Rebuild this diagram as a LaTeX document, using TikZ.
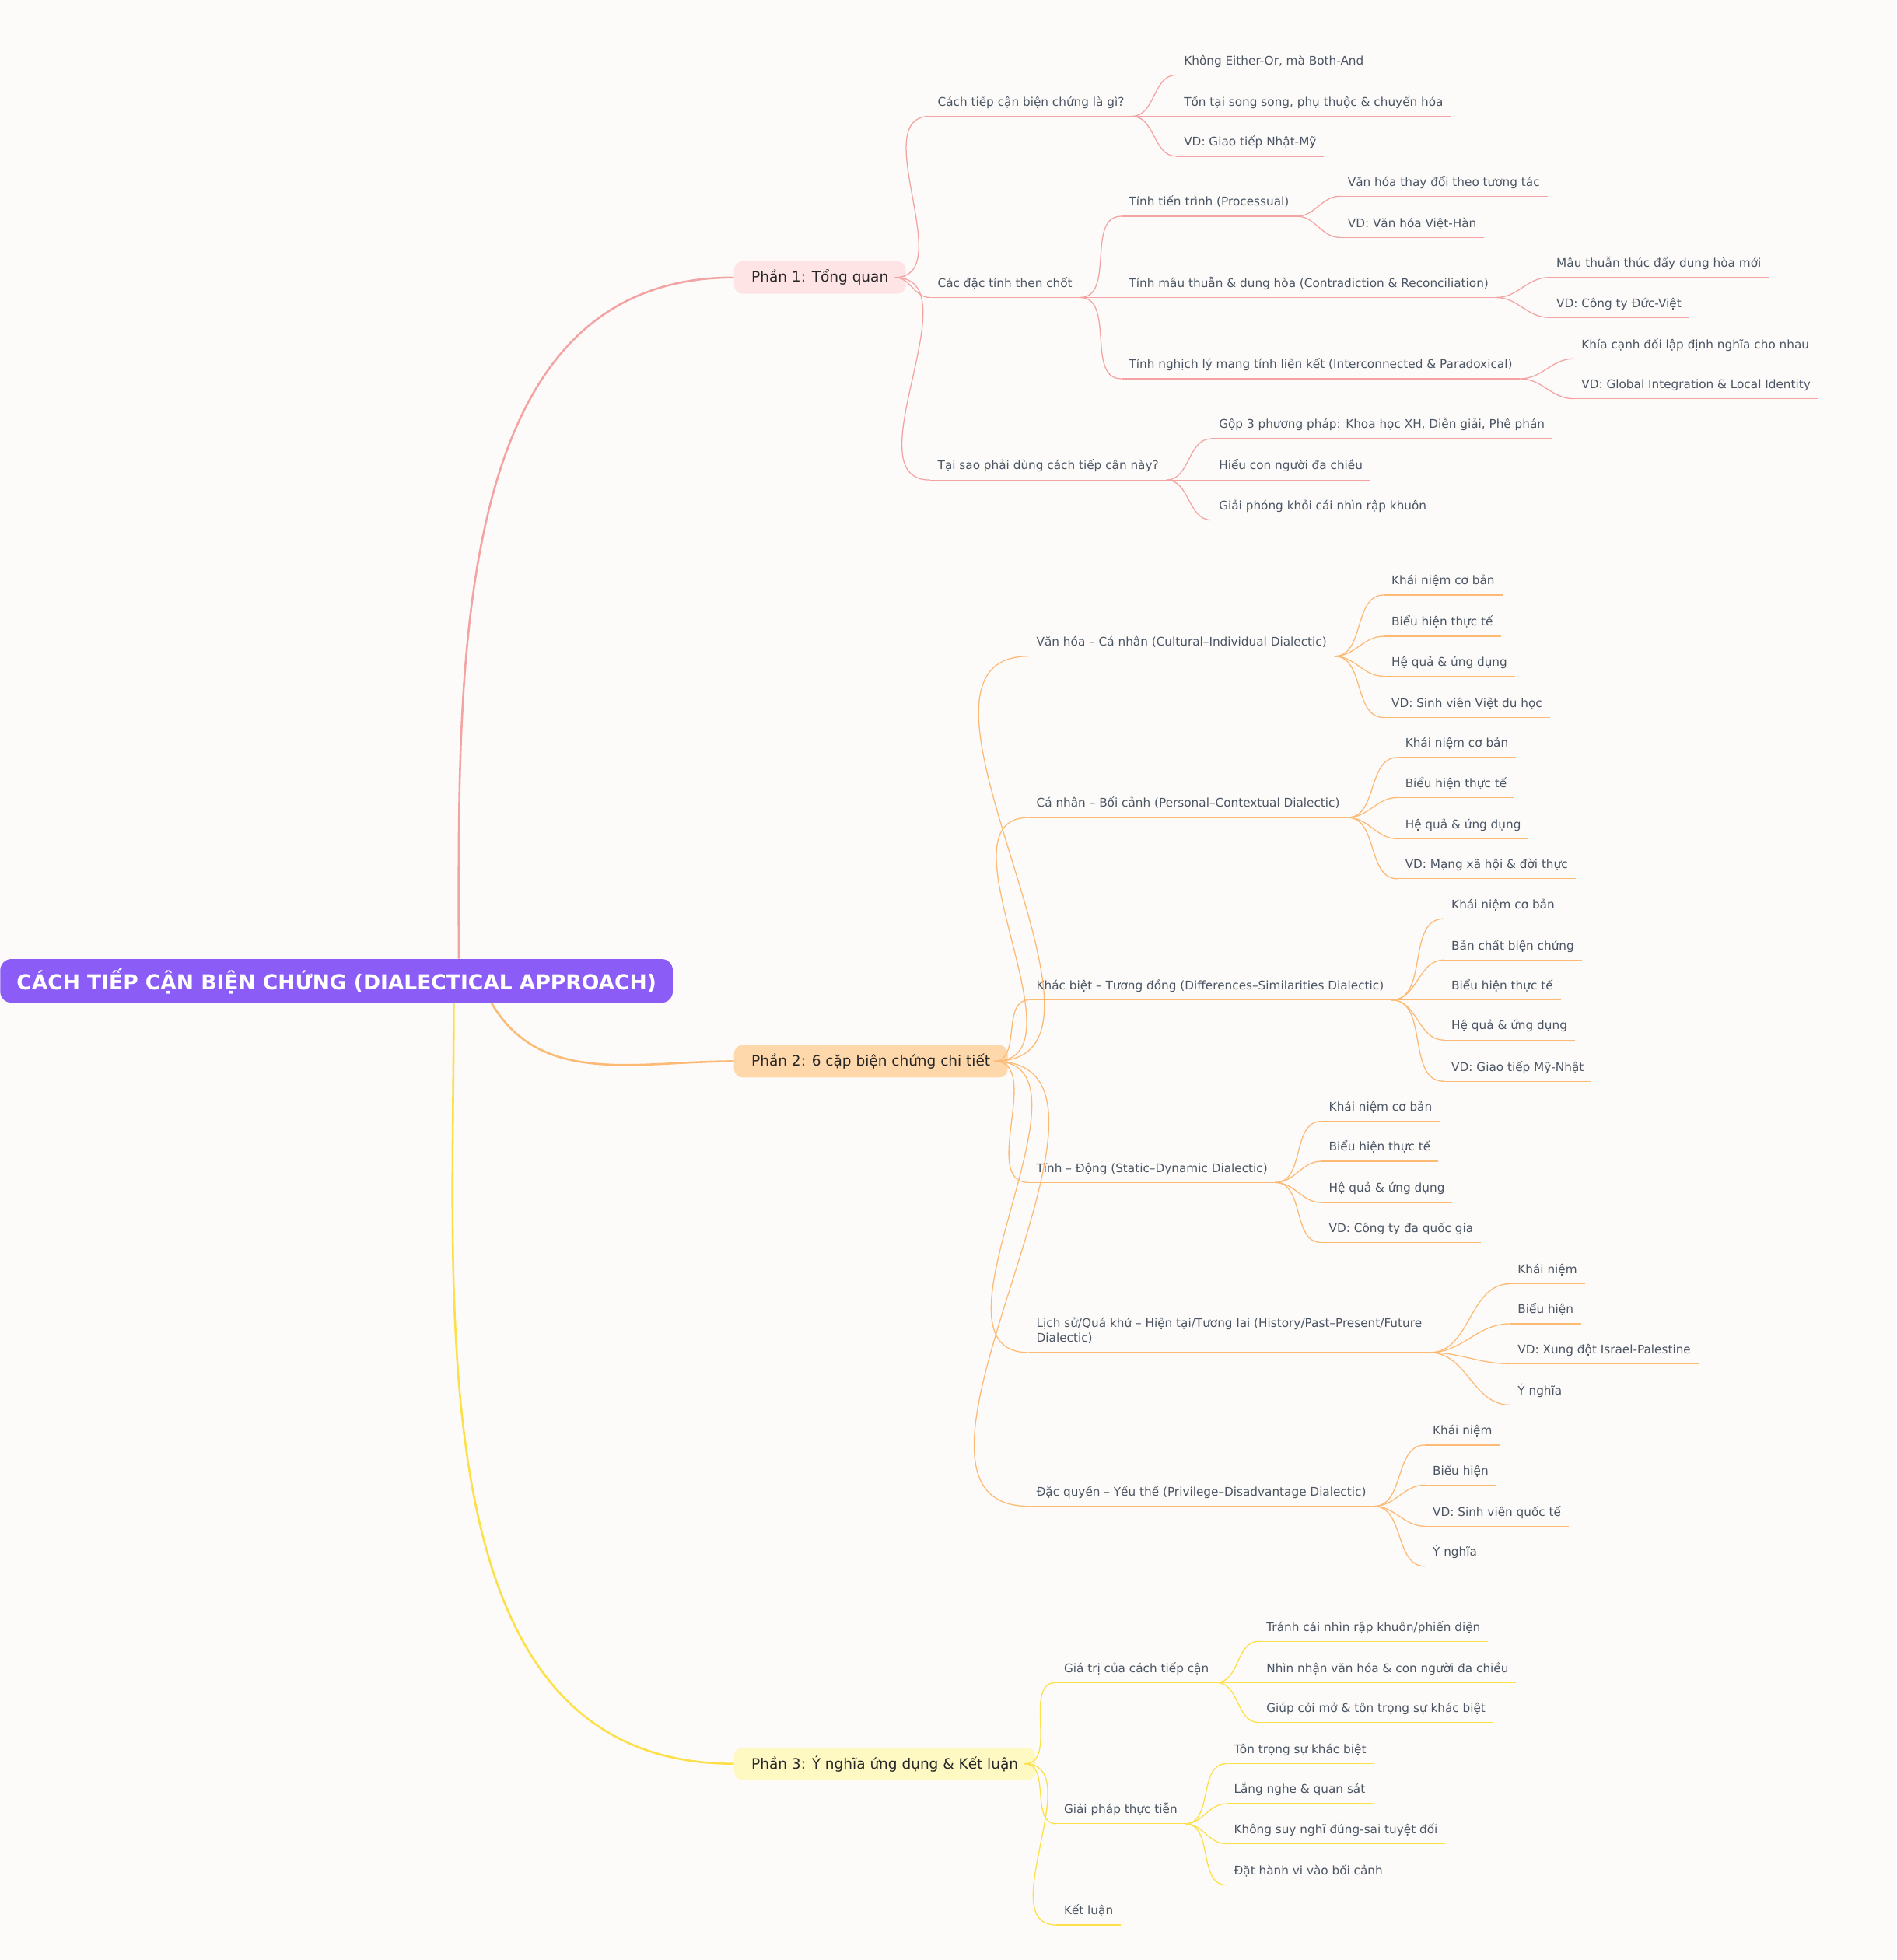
\documentclass[tikz,border=0pt]{standalone}
\usepackage{fontspec}
\setmainfont{DejaVu Sans}
\definecolor{bg}{HTML}{FCFBF9}
\definecolor{pk}{HTML}{F4A3A3}
\definecolor{og}{HTML}{FDBA74}
\definecolor{yl}{HTML}{FDE047}
\definecolor{tx}{HTML}{4B5563}
\definecolor{pkf}{HTML}{FFE4E6}
\definecolor{ogf}{HTML}{FED7AA}
\definecolor{ylf}{HTML}{FEF9C3}
\definecolor{rootc}{HTML}{8B5CF6}
\begin{document}
\begin{tikzpicture}[x=1pt,y=-1pt,
  lf/.style={anchor=south west,inner xsep=6pt,inner ysep=5pt,text depth=3pt,font=\fontsize{9.5}{12}\selectfont,text=tx,
    append after command={(\tikzlastnode.south west) edge[draw=#1,line width=0.8pt] (\tikzlastnode.south east)}},
  br/.style={rounded corners=7pt,fill=#1,minimum height=26pt,inner xsep=14pt,font=\fontsize{11.5}{14}\selectfont,text=black!85,anchor=west},
  cn/.style={draw=#1,line width=0.8pt,out=0,in=180},
  rc/.style={draw=#1,line width=1.6pt}]
\useasboundingbox (0,0) rectangle (1517,1568);
\fill[bg] (0,0) rectangle (1517,1568);
\node[fill=rootc,rounded corners=9pt,minimum width=538pt,minimum height=35pt,anchor=north west,text=white,font=\bfseries\fontsize{16.5}{20}\selectfont] (root) at (0,767) {CÁCH TIẾP CẬN BIỆN CHỨNG (DIALECTICAL APPROACH)};
\node[br=pkf] (p1) at (587,222) {Phần 1: Tổng quan};
\node[br=ogf] (p2) at (587,849) {Phần 2: 6 cặp biện chứng chi tiết};
\node[br=ylf] (p3) at (587,1411) {Phần 3: Ý nghĩa ứng dụng \& Kết luận};
\coordinate (r1) at (367,767);\coordinate (r2) at (393,802);\coordinate (r3) at (363,802);
\draw[rc=pk] (r1) to[out=90,in=180] (p1.west);
\draw[rc=og] (r2) to[out=-60,in=180] (p2.west);
\draw[rc=yl] (r3) to[out=-90,in=180] (p3.west);
% Part 1
\node[lf=pk] (a1) at (744,93) {Cách tiếp cận biện chứng là gì?};
\node[lf=pk] (a2) at (744,238) {Các đặc tính then chốt};
\node[lf=pk] (a3) at (744,384) {Tại sao phải dùng cách tiếp cận này?};
\foreach \c in {a1,a2,a3} \draw[cn=pk] ([xshift=-9pt]p1.east) to (\c.south west);
\foreach \n/\y/\t in {1/60/{Không Either-Or, mà Both-And},2/93/{Tồn tại song song, phụ thuộc \& chuyển hóa},3/125/{VD: Giao tiếp Nhật-Mỹ}}{
  \node[lf=pk] (a1-\n) at (941,\y) {\t}; \draw[cn=pk] (a1.south east) to (a1-\n.south west);}
\node[lf=pk] (b1) at (897,173) {Tính tiến trình (Processual)};
\node[lf=pk] (b2) at (897,238) {Tính mâu thuẫn \& dung hòa (Contradiction \& Reconciliation)};
\node[lf=pk] (b3) at (897,303) {Tính nghịch lý mang tính liên kết (Interconnected \& Paradoxical)};
\foreach \c in {b1,b2,b3} \draw[cn=pk] (a2.south east) to (\c.south west);
\foreach \n/\y/\t in {1/157/{Văn hóa thay đổi theo tương tác},2/190/{VD: Văn hóa Việt-Hàn}}{
  \node[lf=pk] (b1-\n) at (1072,\y) {\t}; \draw[cn=pk] (b1.south east) to (b1-\n.south west);}
\foreach \n/\y/\t in {1/222/{Mâu thuẫn thúc đẩy dung hòa mới},2/254/{VD: Công ty Đức-Việt}}{
  \node[lf=pk] (b2-\n) at (1239,\y) {\t}; \draw[cn=pk] (b2.south east) to (b2-\n.south west);}
\foreach \n/\y/\t in {1/287/{Khía cạnh đối lập định nghĩa cho nhau},2/319/{VD: Global Integration \& Local Identity}}{
  \node[lf=pk] (b3-\n) at (1259,\y) {\t}; \draw[cn=pk] (b3.south east) to (b3-\n.south west);}
\foreach \n/\y/\t in {1/351/{Gộp 3 phương pháp: Khoa học XH, Diễn giải, Phê phán},2/384/{Hiểu con người đa chiều},3/416/{Giải phóng khỏi cái nhìn rập khuôn}}{
  \node[lf=pk] (a3-\n) at (969,\y) {\t}; \draw[cn=pk] (a3.south east) to (a3-\n.south west);}
% Part 2
\node[lf=og] (c1) at (823,525) {Văn hóa – Cá nhân (Cultural–Individual Dialectic)};
\node[lf=og] (c2) at (823,654) {Cá nhân – Bối cảnh (Personal–Contextual Dialectic)};
\node[lf=og] (c3) at (823,800) {Khác biệt – Tương đồng (Differences–Similarities Dialectic)};
\node[lf=og] (c4) at (823,946) {Tĩnh – Động (Static–Dynamic Dialectic)};
\node[lf=og,align=left] (c5) at (823,1082) {Lịch sử/Quá khứ – Hiện tại/Tương lai (History/Past–Present/Future\\Dialectic)};
\node[lf=og] (c6) at (823,1205) {Đặc quyền – Yếu thế (Privilege–Disadvantage Dialectic)};
\foreach \c in {c1,c2,c3,c4,c5,c6} \draw[cn=og] ([xshift=-11pt]p2.east) to (\c.south west);
\foreach \n/\y/\t in {1/476/{Khái niệm cơ bản},2/509/{Biểu hiện thực tế},3/541/{Hệ quả \& ứng dụng},4/574/{VD: Sinh viên Việt du học}}{
  \node[lf=og] (c1-\n) at (1107,\y) {\t}; \draw[cn=og] (c1.south east) to (c1-\n.south west);}
\foreach \n/\y/\t in {1/606/{Khái niệm cơ bản},2/638/{Biểu hiện thực tế},3/671/{Hệ quả \& ứng dụng},4/703/{VD: Mạng xã hội \& đời thực}}{
  \node[lf=og] (c2-\n) at (1118,\y) {\t}; \draw[cn=og] (c2.south east) to (c2-\n.south west);}
\foreach \n/\y/\t in {1/735/{Khái niệm cơ bản},2/768/{Bản chất biện chứng},3/800/{Biểu hiện thực tế},4/832/{Hệ quả \& ứng dụng},5/865/{VD: Giao tiếp Mỹ-Nhật}}{
  \node[lf=og] (c3-\n) at (1155,\y) {\t}; \draw[cn=og] (c3.south east) to (c3-\n.south west);}
\foreach \n/\y/\t in {1/897/{Khái niệm cơ bản},2/929/{Biểu hiện thực tế},3/962/{Hệ quả \& ứng dụng},4/994/{VD: Công ty đa quốc gia}}{
  \node[lf=og] (c4-\n) at (1057,\y) {\t}; \draw[cn=og] (c4.south east) to (c4-\n.south west);}
\foreach \n/\y/\t in {1/1027/{Khái niệm},2/1059/{Biểu hiện},3/1091/{VD: Xung đột Israel-Palestine},4/1124/{Ý nghĩa}}{
  \node[lf=og] (c5-\n) at (1208,\y) {\t}; \draw[cn=og] (c5.south east) to (c5-\n.south west);}
\foreach \n/\y/\t in {1/1156/{Khái niệm},2/1188/{Biểu hiện},3/1221/{VD: Sinh viên quốc tế},4/1253/{Ý nghĩa}}{
  \node[lf=og] (c6-\n) at (1140,\y) {\t}; \draw[cn=og] (c6.south east) to (c6-\n.south west);}
% Part 3
\node[lf=yl] (d1) at (845,1346) {Giá trị của cách tiếp cận};
\node[lf=yl] (d2) at (845,1459) {Giải pháp thực tiễn};
\node[lf=yl] (d3) at (845,1540) {Kết luận};
\foreach \c in {d1,d2,d3} \draw[cn=yl] ([xshift=-9pt]p3.east) to (\c.south west);
\foreach \n/\y/\t in {1/1313/{Tránh cái nhìn rập khuôn/phiến diện},2/1346/{Nhìn nhận văn hóa \& con người đa chiều},3/1378/{Giúp cởi mở \& tôn trọng sự khác biệt}}{
  \node[lf=yl] (d1-\n) at (1007,\y) {\t}; \draw[cn=yl] (d1.south east) to (d1-\n.south west);}
\foreach \n/\y/\t in {1/1411/{Tôn trọng sự khác biệt},2/1443/{Lắng nghe \& quan sát},3/1475/{Không suy nghĩ đúng-sai tuyệt đối},4/1508/{Đặt hành vi vào bối cảnh}}{
  \node[lf=yl] (d2-\n) at (981,\y) {\t}; \draw[cn=yl] (d2.south east) to (d2-\n.south west);}
\end{tikzpicture}
\end{document}
